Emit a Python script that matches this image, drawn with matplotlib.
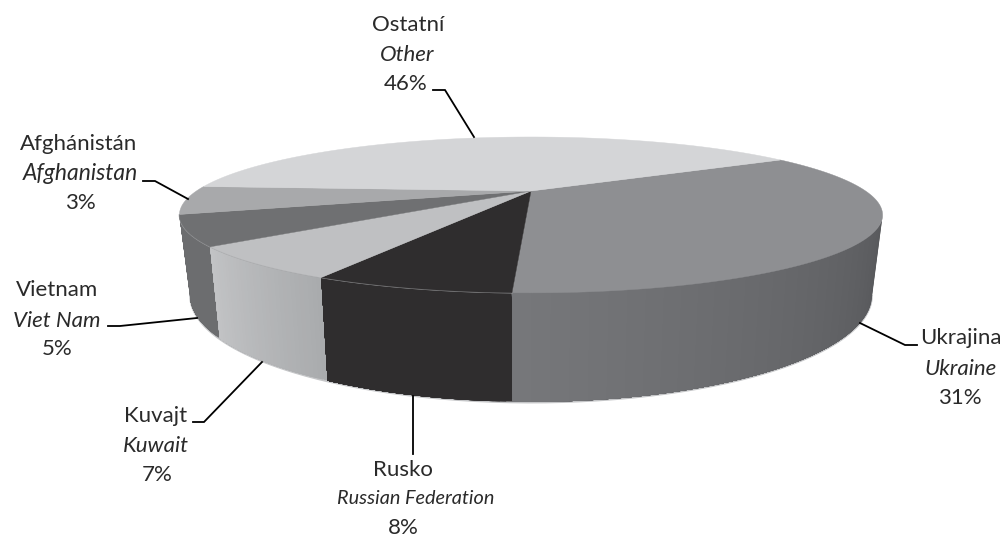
import numpy as np
import matplotlib
matplotlib.use('Agg')
import matplotlib.pyplot as plt
from matplotlib.colors import to_rgb

# slices, clockwise from the back right edge of the Ukraine slice
names_cz = ['Ukrajina', 'Rusko', 'Kuvajt', 'Vietnam', 'Afghánistán', 'Ostatní']
names_en = ['Ukraine', 'Russian Federation', 'Kuwait', 'Viet Nam', 'Afghanistan', 'Other']
pct_labels = ['31%', '8%', '7%', '5%', '3%', '46%']
# drawn size of the slices (the drawing does not follow the printed %)
shares = [34.1, 6.9, 6.5, 6.1, 5.9, 40.5]

top_cols = ['#8e8f92', '#2f2d2e', '#bfc0c2', '#6f7072', '#a8a9ab', '#d4d5d7']
wall_left = ['#76777a', '#2f2d2e', '#c2c3c5', '#6c6d6f', '#a8a9ab', '#d4d5d7']
wall_right = ['#57585a', '#2f2d2e', '#a9abad', '#6c6d6f', '#a8a9ab', '#d4d5d7']

# text centres in pixels
cz_xy = [(961, 338), (403, 470), (156, 416), (57, 290), (79, 144), (408, 25)]
en_xy = [(961, 369), (416, 499), (156, 446), (57, 321), (80, 173), (407, 55)]
pct_xy = [(960, 398), (403, 528), (157, 475), (57, 349), (80, 203), (406, 84)]
en_size = [16, 14.3, 16, 16, 16.5, 16]
leaders = [
    [(860, 323), (905, 345), (917, 345)],
    [(413, 396), (413, 454)],
    [(262, 362), (204, 422), (193, 422)],
    [(197, 318), (120, 326), (108, 326)],
    [(188, 199), (155, 181), (143, 181)],
    [(474, 137), (445, 90), (433, 90)],
]

plt.rcParams['font.family'] = ['Lato', 'DejaVu Sans']

# pie projection
cx, top_y, top_b = 531.0, 191.0, 70.6
top_a = 334.6
bot_a, bot_y, bot_b = 324.5, 262.0, 96.9
k = 0.307
start_angle = 30.5


def project(ang, a, y0, b):
    u, v = np.cos(ang), np.sin(ang)
    s = 1 + k * v
    return cx + a * u / s, y0 - b * v / s


fig = plt.figure(figsize=(10.04, 5.38), dpi=100)
ax = fig.add_axes([0, 0, 1, 1])
ax.set_xlim(0, 1004)
ax.set_ylim(538, 0)
ax.axis('off')

sweeps = np.array(shares) / sum(shares) * 2 * np.pi
edges = np.radians(start_angle) - np.concatenate([[0], np.cumsum(sweeps)])
wall_start = np.arcsin(-k)
wall_end = -np.pi - wall_start

# side wall, only the part facing the viewer
for i in range(len(shares)):
    a0 = min(edges[i], wall_start)
    a1 = max(edges[i + 1], wall_end)
    if a0 <= a1:
        continue
    c0, c1 = np.array(to_rgb(wall_left[i])), np.array(to_rgb(wall_right[i]))
    # each strip runs to the end of the slice so no seams show
    steps = 32
    angs = np.linspace(a0, a1, steps + 1)
    for j in range(steps):
        t = (j + 0.5) / steps
        col = c1 + (c0 - c1) * t
        seg = np.linspace(angs[j], a1, 40)
        xt, yt = project(seg, top_a, top_y, top_b)
        xb, yb = project(seg, bot_a, bot_y, bot_b)
        ax.fill(np.r_[xt, xb[::-1]], np.r_[yt, yb[::-1]], color=col, lw=0, zorder=2 + j * 0.01)

# pale fringe under the wall and on the top rim
angs = np.linspace(wall_start, wall_end, 200)
xb, yb = project(angs, bot_a, bot_y + 0.8, bot_b)
ax.plot(xb, yb, color='#c4c5c7', lw=1.2, zorder=1.5)
xt, yt = project(np.linspace(edges[1], wall_end, 200), top_a, top_y, top_b)
ax.plot(xt, yt, color='#a5a6a8', lw=1.0, zorder=3)

# top faces
for i in range(len(shares)):
    angs = np.linspace(edges[i], edges[i + 1], 150)
    x, y = project(angs, top_a, top_y, top_b)
    ax.fill(np.r_[cx, x], np.r_[top_y, y], color=top_cols[i], lw=0.3, zorder=4)

# labels
for i in range(len(names_cz)):
    ax.text(*cz_xy[i], names_cz[i], ha='center', va='center', fontsize=16, color='#2a2a2a', zorder=6)
    ax.text(*en_xy[i], names_en[i], ha='center', va='center', fontsize=en_size[i],
            style='italic', color='#2a2a2a', zorder=6)
    ax.text(*pct_xy[i], pct_labels[i], ha='center', va='center', fontsize=16, color='#2a2a2a', zorder=6)
    pts = np.array(leaders[i])
    ax.plot(pts[:, 0], pts[:, 1], color='black', lw=1.3, zorder=5, solid_joinstyle='miter')

fig.savefig('out.png', dpi=100, facecolor='white')
